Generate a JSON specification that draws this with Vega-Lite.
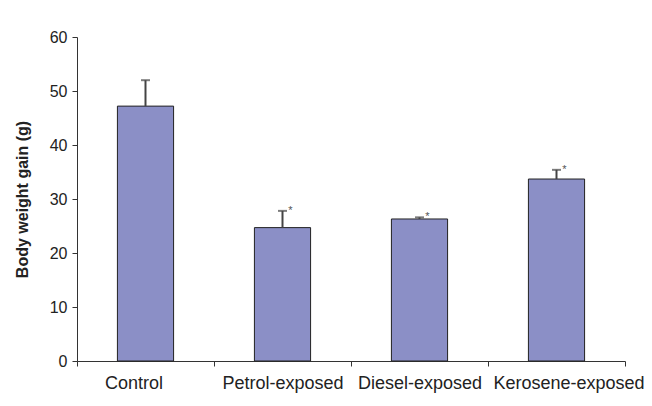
{
  "$schema": "https://vega.github.io/schema/vega-lite/v6.json",
  "autosize": "none",
  "padding": {"left": 77, "top": 37, "right": 27, "bottom": 45},
  "width": 548,
  "height": 324,
  "background": "white",
  "config": {
    "view": {"stroke": null},
    "font": "Liberation Sans"
  },
  "data": {
    "values": [
      {"group": "Control", "gain": 47.2, "upper": 52.0, "sig": ""},
      {"group": "Petrol-exposed", "gain": 24.7, "upper": 27.8, "sig": "*"},
      {"group": "Diesel-exposed", "gain": 26.3, "upper": 26.6, "sig": "*"},
      {"group": "Kerosene-exposed", "gain": 33.7, "upper": 35.4, "sig": "*"}
    ]
  },
  "encoding": {
    "x": {
      "field": "group",
      "type": "nominal",
      "sort": null,
      "scale": {"paddingInner": 0, "paddingOuter": 0},
      "axis": {
        "title": null,
        "labelAngle": 0,
        "labelFontSize": 18,
        "labelColor": "#222",
        "labelPadding": 8,
        "labelOffset": {
          "condition": [
            {"test": "datum.value === 'Control'", "value": -12},
            {"test": "datum.value === 'Kerosene-exposed'", "value": 12}
          ],
          "value": 0
        },
        "tickBand": "extent",
        "tickSize": 5,
        "tickColor": "#333",
        "domainColor": "#333",
        "labelFont": "Liberation Sans"
      }
    }
  },
  "layer": [
    {
      "mark": {"type": "bar", "width": {"band": 0.41}, "fill": "#8B8FC6", "stroke": "#222", "strokeWidth": 1},
      "encoding": {
        "y": {
          "field": "gain",
          "type": "quantitative",
          "scale": {"domain": [0, 60]},
          "axis": {
            "title": "Body weight gain (g)",
            "titleFontSize": 16,
            "titleFontWeight": "bold",
            "titleColor": "#222",
            "titlePadding": 19,
            "values": [0, 10, 20, 30, 40, 50, 60],
            "grid": false,
            "labelFontSize": 16,
            "labelColor": "#222",
            "labelPadding": 5,
            "tickSize": 5,
            "tickColor": "#333",
            "domainColor": "#333"
          }
        }
      }
    },
    {
      "mark": {"type": "rule", "color": "#444", "strokeWidth": 2},
      "encoding": {
        "y": {"field": "gain", "type": "quantitative"},
        "y2": {"field": "upper"}
      }
    },
    {
      "mark": {"type": "tick", "color": "#444", "size": 9, "thickness": 2},
      "encoding": {
        "y": {"field": "upper", "type": "quantitative"}
      }
    },
    {
      "mark": {"type": "text", "fontSize": 11, "color": "#555", "dx": 8, "dy": 3, "baseline": "alphabetic"},
      "encoding": {
        "y": {"field": "upper", "type": "quantitative"},
        "text": {"field": "sig"}
      }
    }
  ]
}
